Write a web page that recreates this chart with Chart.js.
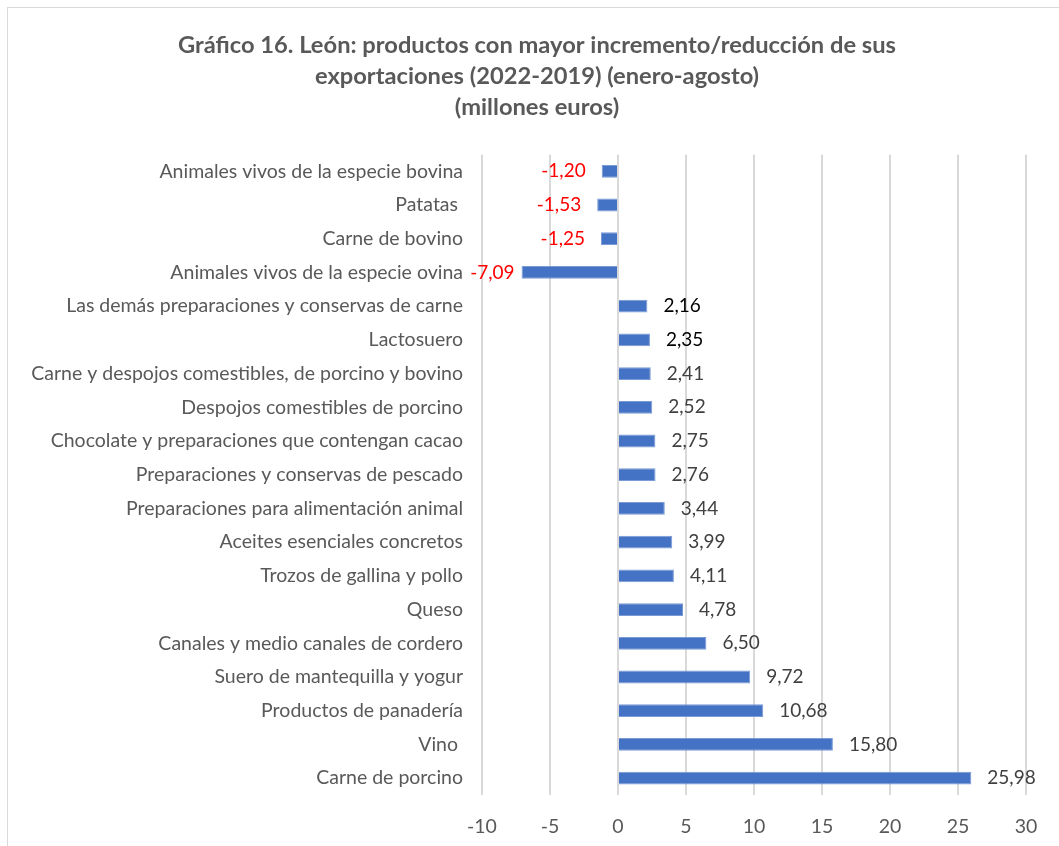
<!DOCTYPE html>
<html>
<head>
<meta charset="utf-8">
<script src="https://cdn.jsdelivr.net/npm/chart.js@4"></script>
<style>
    html, body { margin: 0; padding: 0; background: #fff; overflow: hidden; }
    #frame {
        position: absolute; left: 7px; top: 7px;
        width: 1100px; height: 900px;
        border: 1px solid #d9d9d9;
    }
    #wrap { position: absolute; left: 0; top: 0; width: 1074px; height: 846px; }
</style>
</head>
<body>
<div id="frame"></div>
<div id="wrap"><canvas id="exportChart"></canvas></div>
<script>
const categories = [
    'Animales vivos de la especie bovina',
    'Patatas ',
    'Carne de bovino',
    'Animales vivos de la especie ovina',
    'Las demás preparaciones y conservas de carne',
    'Lactosuero',
    'Carne y despojos comestibles, de porcino y bovino',
    'Despojos comestibles de porcino',
    'Chocolate y preparaciones que contengan cacao',
    'Preparaciones y conservas de pescado',
    'Preparaciones para alimentación animal',
    'Aceites esenciales concretos',
    'Trozos de gallina y pollo',
    'Queso',
    'Canales y medio canales de cordero',
    'Suero de mantequilla y yogur',
    'Productos de panadería',
    'Vino ',
    'Carne de porcino'
]

const values = [
    -1.20, -1.53, -1.25, -7.09, 2.16, 2.35, 2.41, 2.52, 2.75, 2.76,
    3.44, 3.99, 4.11, 4.78, 6.50, 9.72, 10.68, 15.80, 25.98
]

const xTicks = [-10, -5, 0, 5, 10, 15, 20, 25, 30]

const titleLines = [
    'Gráfico 16. León: productos con mayor incremento/reducción de sus',
    'exportaciones (2022-2019) (enero-agosto)',
    '(millones euros)'
]

// labels printed in pure black in the original
const blackLabels = ['Las demás preparaciones y conservas de carne', 'Lactosuero']

const formatValue = (v) => v.toFixed(2).replace('.', ',')

const valueLabels = {
    id: 'valueLabels',
    afterDatasetsDraw(chart) {
        const ctx = chart.ctx
        const meta = chart.getDatasetMeta(0)
        ctx.save()
        ctx.font = '19px Lato'
        ctx.textBaseline = 'middle'
        meta.data.forEach((bar, i) => {
            const v = values[i]
            if (v < 0) {
                ctx.fillStyle = '#ff0000'
                ctx.textAlign = 'right'
                const gap = v < -5 ? 7 : 16
                ctx.fillText(formatValue(v), bar.x - gap, bar.y)
            } else {
                ctx.fillStyle = blackLabels.includes(categories[i]) ? '#000000' : '#404040'
                ctx.textAlign = 'left'
                ctx.fillText(formatValue(v), bar.x + 16, bar.y)
            }
        })
        ctx.restore()
    }
}

const canvas = document.getElementById('exportChart')
new Chart(canvas, {
    type: 'bar',
    data: {
        labels: categories,
        datasets: [
            {
                data: values,
                backgroundColor: '#4472c4',
                borderColor: '#7b9bd6',
                borderWidth: 1,
                barPercentage: 0.38,
                categoryPercentage: 1
            }
        ]
    },
    options: {
        indexAxis: 'y',
        responsive: true,
        maintainAspectRatio: false,
        animation: false,
        layout: {
            padding: 0
        },
        plugins: {
            legend: { display: false },
            tooltip: { enabled: false },
            title: {
                display: true,
                text: titleLines,
                color: '#595959',
                font: { family: 'Lato', size: 23.7, weight: 'bold', lineHeight: 1.3 },
                padding: { top: 30, bottom: 32 }
            }
        },
        scales: {
            x: {
                min: -10,
                max: 30,
                afterBuildTicks: (scale) => {
                    scale.ticks = xTicks.map((value) => ({ value }))
                },
                afterFit: (scale) => {
                    scale.height = 51
                },
                grid: {
                    color: '#d9d9d9',
                    lineWidth: 2,
                    drawTicks: false
                },
                border: { display: false },
                ticks: {
                    color: '#595959',
                    font: { family: 'Lato', size: 19.5 },
                    padding: 20
                }
            },
            y: {
                afterFit: (scale) => {
                    scale.width = 482
                },
                grid: { display: false, drawTicks: false },
                border: { display: false },
                ticks: {
                    color: '#595959',
                    font: { family: 'Lato', size: 19.5 },
                    padding: 19,
                    autoSkip: false
                }
            },
            // empty spacer on the right so the title centres like the original
            yRight: {
                type: 'category',
                axis: 'y',
                position: 'right',
                afterFit: (scale) => {
                    scale.width = 48
                },
                grid: { display: false, drawTicks: false },
                border: { display: false },
                ticks: { display: false }
            }
        }
    },
    plugins: [valueLabels]
})
</script>
</body>
</html>
